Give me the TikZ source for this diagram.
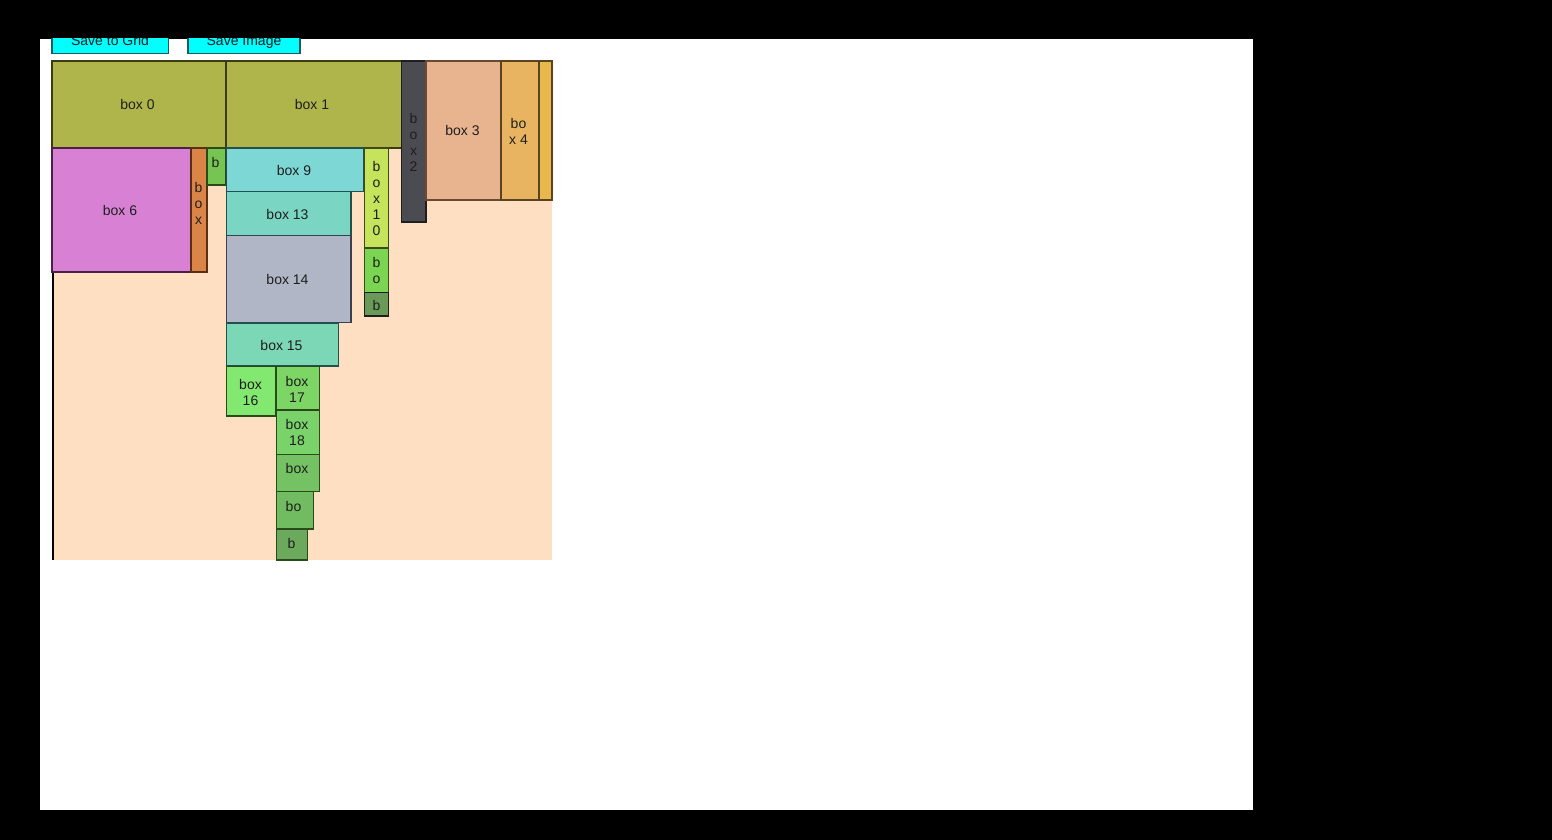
\documentclass[tikz,border=0pt]{standalone}
\usepackage{fontspec}
\setmainfont{Liberation Sans}
\definecolor{peach}{HTML}{FFDFC1}
\definecolor{btnF}{HTML}{00FFFF}
\definecolor{olive}{HTML}{AFB54B}
\definecolor{oliveD}{HTML}{3A3C14}
\definecolor{gryF}{HTML}{4B4B52}
\definecolor{gryD}{HTML}{1E1E22}
\definecolor{salF}{HTML}{E8B38F}
\definecolor{salD}{HTML}{6B4A30}
\definecolor{ambF}{HTML}{E8B461}
\definecolor{ambD}{HTML}{5A4420}
\definecolor{yelF}{HTML}{E8B84C}
\definecolor{pnkF}{HTML}{D881D4}
\definecolor{pnkD}{HTML}{4A2048}
\definecolor{orgF}{HTML}{DA8448}
\definecolor{orgD}{HTML}{5A3010}
\definecolor{grnF}{HTML}{76C552}
\definecolor{grnD}{HTML}{2A4A1A}
\definecolor{cyaF}{HTML}{7DD7D4}
\definecolor{cyaD}{HTML}{22504E}
\definecolor{limF}{HTML}{C5E35B}
\definecolor{limD}{HTML}{3E4A1A}
\definecolor{g11F}{HTML}{7BD552}
\definecolor{g12F}{HTML}{6A9A58}
\definecolor{tqF}{HTML}{7AD6C3}
\definecolor{slF}{HTML}{B0B6C5}
\definecolor{slD}{HTML}{3A4050}
\definecolor{t15F}{HTML}{7CD7B7}
\definecolor{g16F}{HTML}{82E870}
\definecolor{g17F}{HTML}{7CD565}
\definecolor{g18F}{HTML}{7AD26A}
\definecolor{g19F}{HTML}{74C264}
\definecolor{g20F}{HTML}{71BC60}
\definecolor{g21F}{HTML}{6BAA5C}
\definecolor{btnD}{HTML}{1F5A5A}
\definecolor{txt}{HTML}{1E1E1E}
\tikzset{
  bx/.style 2 args={fill=#1,draw=#2,line width=1.3pt},
  lbl/.style={inner sep=0pt,align=center,text=txt,font=\fontsize{14}{16}\selectfont},
  btn/.style={fill=btnF,draw=btnD,line width=1.3pt}
}
\begin{document}
\begin{tikzpicture}[x=1pt,y=-1pt]
\useasboundingbox (0,0) rectangle (1552,840);
\fill[black] (0,0) rectangle (1552,840);
\fill[white] (40,39) rectangle (1253,810);
% buttons (top clipped)
\begin{scope}
\clip (40,39) rectangle (1253,810);
\draw[btn] (52,28) rectangle (168.5,53.5);
\node[lbl,anchor=base] (btngrid) at (110,45.5) {Save to Grid};
\draw[btn] (188,28) rectangle (300,53.5);
\node[lbl,anchor=base] (btnimg) at (244,45.5) {Save Image};
\end{scope}
% panel
\fill[peach] (52,61) rectangle (552,560);
\draw[black,line width=2pt] (53,61) -- (53,560);
% boxes
\draw[bx={olive}{oliveD}] (52,61) rectangle (226,148);
\node[lbl] (b0) at (137.5,104.5) {box 0};
\draw[bx={olive}{oliveD}] (226,61) rectangle (401.5,148);
\node[lbl] (b1) at (312,104.5) {box 1};
\draw[bx={gryF}{gryD}] (401.5,61) rectangle (426,222);
\node[lbl] (b2) at (413.5,142) {b\\o\\x\\2};
\draw[bx={salF}{salD}] (426,61) rectangle (501,200);
\node[lbl] (b3) at (462.5,130.5) {box 3};
\draw[bx={ambF}{ambD}] (501,61) rectangle (539,200);
\node[lbl] (b4) at (518.5,131) {bo\\x 4};
\draw[bx={yelF}{ambD}] (539,61) rectangle (552,200);
\draw[bx={pnkF}{pnkD}] (52,148) rectangle (191,272);
\node[lbl] (b6) at (120,210.5) {box 6};
\draw[bx={orgF}{orgD}] (191,148) rectangle (207,272);
\node[lbl] (b7) at (198.5,203.5) {b\\o\\x};
\draw[bx={grnF}{grnD}] (207,148) rectangle (226,185);
\node[lbl] (b8) at (215.5,162.5) {b};
\draw[bx={cyaF}{cyaD}] (226.5,148) rectangle (363.5,191.5);
\node[lbl] (b9) at (294,170.5) {box 9};
\draw[bx={limF}{limD}] (364.5,148) rectangle (388.5,248);
\node[lbl] (b10) at (376.5,198.5) {b\\o\\x\\1\\0};
\draw[bx={g11F}{limD}] (364.5,248) rectangle (388.5,292.5);
\node[lbl] (b11) at (376.5,270.5) {b\\o};
\draw[bx={g12F}{gryD}] (364.5,292.5) rectangle (388.5,316);
\node[lbl] (b12) at (376.5,305) {b};
\draw[bx={tqF}{cyaD}] (226.5,191.5) rectangle (351,235.5);
\node[lbl] (b13) at (287.5,214.5) {box 13};
\draw[bx={slF}{slD}] (226.5,235.5) rectangle (351,322.5);
\node[lbl] (b14) at (287.5,279.5) {box 14};
\draw[bx={t15F}{cyaD}] (226.5,323) rectangle (338.5,366);
\node[lbl] (b15) at (281.5,345.5) {box 15};
\draw[bx={g16F}{grnD}] (226.5,366.5) rectangle (276,416);
\node[lbl] (b16) at (250.5,392.5) {box\\16};
\draw[bx={g17F}{grnD}] (276.5,366.5) rectangle (319.5,410);
\node[lbl] (b17) at (297,389) {box\\17};
\draw[bx={g18F}{grnD}] (276.5,410.5) rectangle (319.5,454.5);
\node[lbl] (b18) at (297,432.5) {box\\18};
\draw[bx={g19F}{grnD}] (276.5,454.5) rectangle (319.5,491.5);
\node[lbl] (b19) at (297,468.5) {box};
\draw[bx={g20F}{grnD}] (276.5,491.5) rectangle (313.5,529);
\node[lbl] (b20) at (293.5,506.5) {bo};
\draw[bx={g21F}{grnD}] (276.5,529) rectangle (307.5,560);
\node[lbl] (b21) at (291.5,543.5) {b};
\end{tikzpicture}
\end{document}
